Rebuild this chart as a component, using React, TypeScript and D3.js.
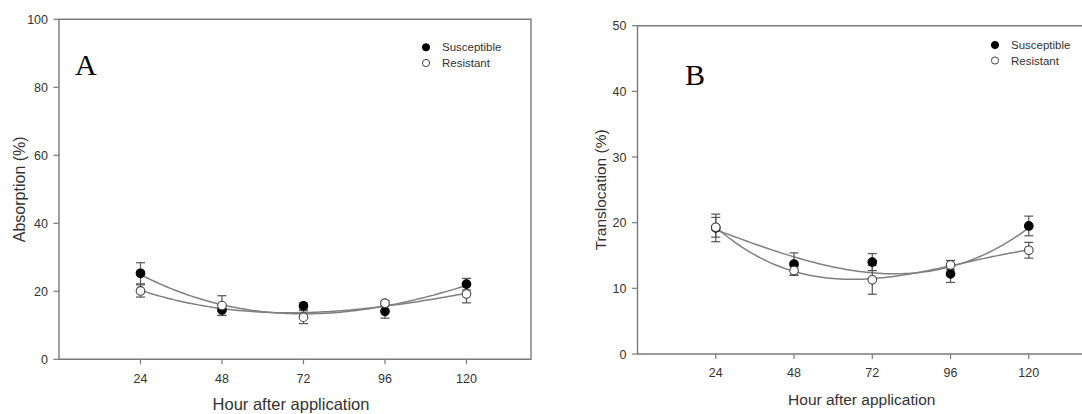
import { useEffect } from "react";
import * as d3 from "d3";

const hours = [24, 48, 72, 96, 120];

// panel A – absorption (%)
const absSusceptible = [25.3, 14.5, 15.7, 14.1, 22.1];
const absSusceptibleErr = [3.1, 1.6, 0.9, 2.0, 1.7];
const absResistant = [20.1, 15.8, 12.4, 16.5, 19.2];
const absResistantErr = [1.8, 2.9, 1.9, 0.7, 2.6];

// panel B – translocation (%)
const transSusceptible = [19.2, 13.7, 14.0, 12.2, 19.5];
const transSusceptibleErr = [2.1, 1.7, 1.3, 1.3, 1.5];
const transResistant = [19.3, 12.7, 11.3, 13.55, 15.8];
const transResistantErr = [1.5, 0.7, 2.2, 0.7, 1.2];

const absTicks = [0, 20, 40, 60, 80, 100];
const transTicks = [0, 10, 20, 30, 40, 50];
const legendLabels = ["Susceptible", "Resistant"];

const SANS = "'Liberation Sans', Arial, sans-serif";
const AXIS = "#7a7a7a";
const LINE = "#808080";
const BAR = "#555";
const TEXT = "#333";

// least-squares cubic through the plotted means (the curves in the original are fitted regressions)
function polyFit(xs: number[], ys: number[], degree: number) {
  const n = degree + 1;
  const A = d3.range(n).map((r) => d3.range(n).map((c) => d3.sum(xs, (x) => Math.pow(x, r + c))));
  const b = d3.range(n).map((r) => d3.sum(xs, (x, i) => Math.pow(x, r) * ys[i]));
  for (let col = 0; col < n; col++) {
    for (let row = col + 1; row < n; row++) {
      const f = A[row][col] / A[col][col];
      for (let k = col; k < n; k++) A[row][k] -= f * A[col][k];
      b[row] -= f * b[col];
    }
  }
  const coef = new Array(n).fill(0);
  for (let row = n - 1; row >= 0; row--) {
    let s = b[row];
    for (let k = row + 1; k < n; k++) s -= A[row][k] * coef[k];
    coef[row] = s / A[row][row];
  }
  return (x: number) => coef.reduce((acc, c, i) => acc + c * Math.pow(x, i), 0);
}

type Series = { values: number[]; errors: number[]; filled: boolean };

type PanelProps = {
  letter: string;
  letterX: number;
  letterY: number;
  xRange: [number, number];
  xMax: number;
  yRange: [number, number];
  yMax: number;
  yTicks: number[];
  yTitle: string;
  yTitleX: number;
  xTitleY: number;
  xTitleSize: number;
  yTitleSize: number;
  tickLabelY: number;
  frameRight: number;
  legendX: number;
  legendY: [number, number];
  series: Series[];
};

function Panel(p: PanelProps) {
  const x = d3.scaleLinear().domain([0, p.xMax]).range(p.xRange);
  const y = d3.scaleLinear().domain([0, p.yMax]).range(p.yRange);
  const left = p.xRange[0];
  const bottom = p.yRange[0];
  const top = p.yRange[1];
  const center = (hours[0] + hours[hours.length - 1]) / 2;
  const step = hours[1] - hours[0];
  const line = d3
    .line<number>()
    .x((h) => x(h))
    .curve(d3.curveLinear);

  return (
    <g>
      {/* fitted curves */}
      {p.series.map((s, si) => {
        const fit = polyFit(
          hours.map((h) => (h - center) / step),
          s.values,
          3
        );
        const samples = d3.range(hours[0], hours[hours.length - 1] + 0.5, 1);
        const path = line.y((h) => y(fit((h - center) / step)))(samples) ?? "";
        return <path key={si} d={path} fill="none" stroke={LINE} strokeWidth={1.5} />;
      })}

      {/* error bars */}
      {p.series.map((s, si) =>
        hours.map((h, i) => {
          const cx = x(h);
          const y1 = y(s.values[i] + s.errors[i]);
          const y2 = y(s.values[i] - s.errors[i]);
          return (
            <g key={`e${si}-${i}`} stroke={BAR} strokeWidth={1.2}>
              <line x1={cx} x2={cx} y1={y1} y2={y2} />
              <line x1={cx - 4.5} x2={cx + 4.5} y1={y1} y2={y1} />
              <line x1={cx - 4.5} x2={cx + 4.5} y1={y2} y2={y2} />
            </g>
          );
        })
      )}

      {/* markers */}
      {p.series.map((s, si) =>
        hours.map((h, i) => (
          <circle
            key={`m${si}-${i}`}
            cx={x(h)}
            cy={y(s.values[i])}
            r={4.3}
            fill={s.filled ? "#000" : "#fff"}
            stroke={s.filled ? "#000" : "#444"}
            strokeWidth={1.1}
          />
        ))
      )}

      {/* frame */}
      <path
        d={`M${left},${top}H${p.frameRight}V${bottom}H${left}Z`}
        fill="none"
        stroke={AXIS}
        strokeWidth={1.4}
      />

      {/* y axis */}
      {p.yTicks.map((t) => (
        <g key={`y${t}`}>
          <line x1={left - 5.5} x2={left} y1={y(t)} y2={y(t)} stroke={AXIS} strokeWidth={1.2} />
          <text
            x={left - 11}
            y={y(t)}
            dy="0.36em"
            textAnchor="end"
            fontFamily={SANS}
            fontSize={12.5}
            fill={TEXT}
          >
            {t}
          </text>
        </g>
      ))}

      {/* x axis */}
      {hours.map((h) => (
        <g key={`x${h}`}>
          <line x1={x(h)} x2={x(h)} y1={bottom} y2={bottom + 5} stroke={AXIS} strokeWidth={1.2} />
          <text
            x={x(h)}
            y={p.tickLabelY}
            textAnchor="middle"
            fontFamily={SANS}
            fontSize={12.5}
            fill={TEXT}
          >
            {h}
          </text>
        </g>
      ))}

      <text
        x={(left + p.frameRight) / 2 - 4}
        y={p.xTitleY}
        textAnchor="middle"
        fontFamily={SANS}
        fontSize={p.xTitleSize}
        fill={TEXT}
      >
        Hour after application
      </text>
      <text
        transform={`translate(${p.yTitleX},${(top + bottom) / 2}) rotate(-90)`}
        textAnchor="middle"
        dy="0.36em"
        fontFamily={SANS}
        fontSize={p.yTitleSize}
        fill={TEXT}
      >
        {p.yTitle}
      </text>

      <text x={p.letterX} y={p.letterY} fontFamily="'Liberation Serif', 'Times New Roman', serif" fontSize={30} fill="#000">
        {p.letter}
      </text>

      {/* legend */}
      {legendLabels.map((label, i) => (
        <g key={label}>
          <circle
            cx={p.legendX}
            cy={p.legendY[i]}
            r={3.6}
            fill={i === 0 ? "#000" : "#fff"}
            stroke={i === 0 ? "#000" : "#444"}
            strokeWidth={1}
          />
          <text
            x={p.legendX + 16}
            y={p.legendY[i]}
            dy="0.36em"
            fontFamily={SANS}
            fontSize={11.5}
            fill={TEXT}
          >
            {label}
          </text>
        </g>
      ))}
    </g>
  );
}

export default function App() {
  useEffect(() => {
    document.body.style.margin = "0";
  }, []);

  return (
    <svg width={1082} height={414} style={{ display: "block", background: "#fff" }}>
      <Panel
        letter="A"
        letterX={75}
        letterY={75}
        xRange={[59, 531]}
        xMax={139}
        yRange={[359.3, 19.3]}
        yMax={100}
        yTicks={absTicks}
        yTitle="Absorption (%)"
        yTitleX={19}
        xTitleY={410}
        xTitleSize={16.5}
        yTitleSize={16}
        tickLabelY={383}
        frameRight={531}
        legendX={426}
        legendY={[47.3, 63]}
        series={[
          { values: absSusceptible, errors: absSusceptibleErr, filled: true },
          { values: absResistant, errors: absResistantErr, filled: false },
        ]}
      />
      <Panel
        letter="B"
        letterX={685}
        letterY={85}
        xRange={[637.5, 1094]}
        xMax={140}
        yRange={[354, 25.7]}
        yMax={50}
        yTicks={transTicks}
        yTitle="Translocation (%)"
        yTitleX={600}
        xTitleY={405}
        xTitleSize={15.5}
        yTitleSize={15.5}
        tickLabelY={377}
        frameRight={1094}
        legendX={995}
        legendY={[45, 60.5]}
        series={[
          { values: transSusceptible, errors: transSusceptibleErr, filled: true },
          { values: transResistant, errors: transResistantErr, filled: false },
        ]}
      />
    </svg>
  );
}
